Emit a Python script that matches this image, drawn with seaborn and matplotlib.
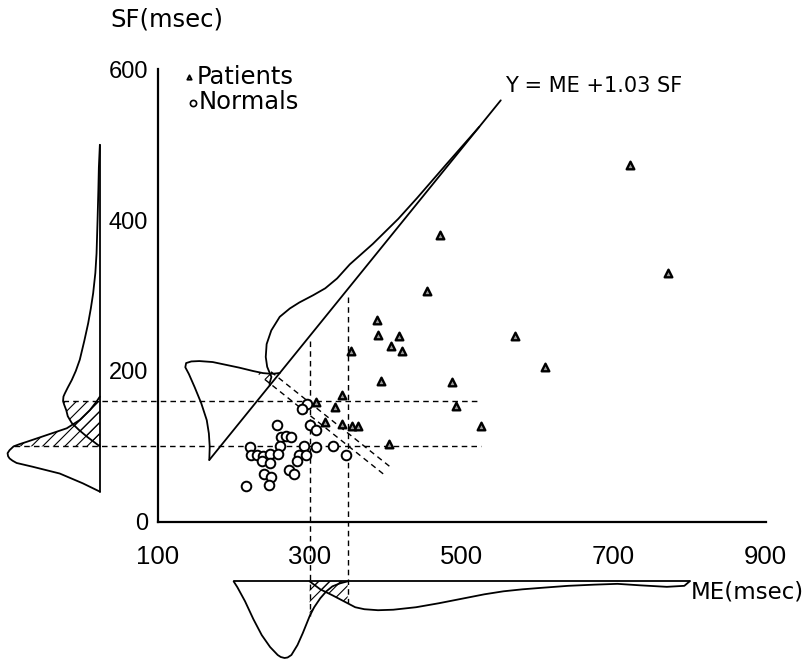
import numpy as np
import pandas as pd
import matplotlib
matplotlib.use("Agg")
import matplotlib.pyplot as plt
import matplotlib.transforms as mtransforms
import seaborn as sns

# ---------------- data ----------------
# scatter: ME (msec) vs SF (msec)
patients_me = [388, 390, 418, 407, 421, 472, 455, 570, 610, 394, 487, 493,
               525, 721, 771, 355, 343, 309, 333, 320, 343, 356, 364, 405]
patients_sf = [267, 248, 247, 233, 227, 381, 306, 246, 205, 187, 185, 154,
               127, 473, 330, 226, 168, 159, 152, 133, 130, 127, 127, 103]
normals_me = [297, 290, 257, 301, 308, 262, 269, 275, 222, 261, 293, 308, 331,
              348, 223, 231, 239, 248, 259, 286, 295, 237, 248, 284, 273, 279,
              240, 249, 246, 216]
normals_sf = [156, 150, 129, 129, 122, 113, 114, 112, 99, 100, 100, 99, 100,
              89, 89, 89, 87, 90, 90, 89, 89, 80, 78, 80, 69, 63, 63, 59, 49, 48]

# marginal distribution of SF (density, arbitrary units)
sf_norm_grid = [40, 51, 64, 73, 78, 81, 84, 87, 91, 95, 100, 103, 106, 115, 124,
                135, 148, 160, 166]
sf_norm_dens = [0, .17, .40, .67, .83, .87, .90, .915, .92, .90, .86, .80, .73,
                .53, .33, .20, .10, .03, 0]
sf_pat_grid = [100, 106, 113, 122, 131, 140, 148, 155, 160, 166, 170, 178, 188,
               200, 215, 240, 263, 283, 303, 330, 356, 400, 440, 470, 500]
sf_pat_dens = [0, .06, .13, .21, .28, .32, .335, .355, .367, .363, .35, .32,
               .28, .24, .20, .155, .117, .09, .067, .045, .033, .023, .015, .01, 0]

# marginal distribution of ME
me_norm_grid = [200, 205, 215, 226, 237, 248, 258, 262, 267, 271, 276, 284, 291,
                300, 306, 314, 322, 330, 340, 350]
me_norm_dens = [0, .06, .20, .38, .54, .66, .74, .76, .77, .765, .74, .64, .52,
                .35, .26, .17, .10, .05, .02, 0]
me_pat_grid = [300, 314, 330, 340, 350, 360, 372, 390, 410, 440, 470, 490, 510,
               530, 555, 580, 605, 640, 675, 705, 735, 770, 793, 800]
me_pat_dens = [0, .08, .14, .18, .22, .26, .28, .29, .285, .26, .22, .19, .16,
               .13, .10, .08, .065, .045, .033, .025, .04, .055, .045, 0]

# distribution along the discriminant axis Y = ME + 1.03 SF (position along axis)
y_norm_pos = [0, 14, 27, 39, 52, 63, 72, 76, 81, 87, 94, 104, 112, 120, 128,
              129, 134, 139, 142, 148]
y_norm_dens = [0, .08, .17, .27, .42, .57, .70, .77, .79, .76, .70, .59, .47,
               .35, .22, .205, .13, .074, .045, 0]
y_pat_pos = [127, 129, 137, 142, 144, 153, 167, 185, 206, 223, 237, 256, 273,
             293, 318, 358, 405, 442, 501, 567]
y_pat_dens = [0, .015, .04, .11, .137, .21, .284, .334, .354, .328, .292, .23,
              .18, .15, .14, .09, .05, .035, .02, 0]

sf_cut = [100, 160]
me_cut = [300, 350]
y_cut = [129, 142]

# ---------------- layout ----------------
DENS = 132            # data units per density unit
SF_BASE = 24          # ME position of SF-marginal baseline
ME_BASE = -79         # SF position of ME-marginal baseline
DIAG_ORIGIN = (168, 82)
DIAG_ANGLE = 51.2
DIAG_LEN = 612
LW = 1.3
DASH = (0, (4, 3))

sns.set_style("white")
plt.rcParams["font.family"] = ["DejaVu Sans"]
plt.rcParams["hatch.linewidth"] = 0.8
plt.rcParams["text.color"] = "black"
plt.rcParams["xtick.color"] = "black"
plt.rcParams["ytick.color"] = "black"
TICKFONT = ["Liberation Sans", "DejaVu Sans"]

fig = plt.figure(figsize=(8.05, 6.6), dpi=100)
ax = fig.add_axes([0, 0, 1, 1])
ax.patch.set_alpha(0)

pat = pd.DataFrame({"ME": patients_me, "SF": patients_sf})
nor = pd.DataFrame({"ME": normals_me, "SF": normals_sf})
sns.scatterplot(data=pat, x="ME", y="SF", marker="^", s=30, color="#9a9a9a",
                edgecolor="black", linewidth=1.7, ax=ax, zorder=4, legend=False)
sns.scatterplot(data=nor, x="ME", y="SF", marker="o", s=48, color="white",
                edgecolor="black", linewidth=1.4, ax=ax, zorder=4, legend=False)

def env(x, g1, d1, g2, d2):
    return max(np.interp(x, g1, d1, left=0, right=0), np.interp(x, g2, d2, left=0, right=0))

# ---- SF marginal (left) ----
ax.plot([SF_BASE, SF_BASE], [sf_norm_grid[0], sf_pat_grid[-1]], color="k", lw=LW)
for g, d in [(sf_norm_grid, sf_norm_dens), (sf_pat_grid, sf_pat_dens)]:
    g = np.array(g); d = np.array(d)
    ax.plot(SF_BASE - DENS * d, g, color="k", lw=LW)
    ax.fill_betweenx(g, SF_BASE - DENS * d, SF_BASE, where=(g >= sf_cut[0]) & (g <= sf_cut[1]),
                     facecolor="none", edgecolor="k", hatch="///", lw=0)

# ---- ME marginal (bottom) ----
ax.plot([me_norm_grid[0], me_pat_grid[-1]], [ME_BASE, ME_BASE], color="k", lw=LW)
for g, d in [(me_norm_grid, me_norm_dens), (me_pat_grid, me_pat_dens)]:
    g = np.array(g); d = np.array(d)
    ax.plot(g, ME_BASE - DENS * d, color="k", lw=LW)
    ax.fill_between(g, ME_BASE - DENS * d, ME_BASE, where=(g >= me_cut[0]) & (g <= me_cut[1]),
                    facecolor="none", edgecolor="k", hatch="///", lw=0)

# ---- discriminant axis ----
rot = mtransforms.Affine2D().rotate_deg(DIAG_ANGLE).translate(*DIAG_ORIGIN) + ax.transData
ax.plot([0, DIAG_LEN], [0, 0], color="k", lw=LW, transform=rot)
for p, d in [(y_norm_pos, y_norm_dens), (y_pat_pos, y_pat_dens)]:
    p = np.array(p); d = np.array(d)
    ax.plot(p, DENS * d, color="k", lw=LW, transform=rot)
    ax.fill_between(p, 0, DENS * d, where=(p >= y_cut[0]) & (p <= y_cut[1]),
                    facecolor="none", edgecolor="k", hatch="///", lw=0, transform=rot)
for c in y_cut:
    ax.plot([c, c], [10, -195], color="k", lw=1.0, ls=DASH, transform=rot)

# ---- cutoff lines ----
for c in sf_cut:
    x0 = SF_BASE - DENS * env(c, sf_norm_grid, sf_norm_dens, sf_pat_grid, sf_pat_dens)
    ax.plot([x0, 526], [c, c], color="k", lw=1.0, ls=DASH)
for c, top in zip(me_cut, [240, 298]):
    y0 = ME_BASE - DENS * env(c, me_norm_grid, me_norm_dens, me_pat_grid, me_pat_dens)
    ax.plot([c, c], [top, y0], color="k", lw=1.0, ls=DASH)

# ---- axes ----
ax.set_xlim(-107.4, 951.8)
ax.set_ylim(-183.3, 692.0)
for s in ["top", "right"]:
    ax.spines[s].set_visible(False)
ax.spines["left"].set_position(("data", 100))
ax.spines["left"].set_bounds(0, 600)
ax.spines["bottom"].set_position(("data", 0))
ax.spines["bottom"].set_bounds(100, 900)
for s in ["left", "bottom"]:
    ax.spines[s].set_linewidth(1.6)
    ax.spines[s].set_color("k")
ax.set_xticks([100, 300, 500, 700, 900])
ax.set_xticks([200, 400, 600, 800], minor=True)
ax.set_yticks([0, 200, 400, 600])
ax.set_yticks([100, 300, 500], minor=True)
ax.tick_params(which="both", direction="in", length=6, width=1.2, color="k")
ax.tick_params(axis="x", which="major", pad=17)
ax.tick_params(axis="y", which="major", pad=7)
for lab in ax.get_xticklabels():
    lab.set_family(TICKFONT)
    lab.set_fontsize(18.5)
for lab in ax.get_yticklabels():
    lab.set_family(TICKFONT)
    lab.set_fontsize(17)
ax.set_xlabel(""); ax.set_ylabel("")

W, H = 805, 660
ax.text(110 / W, 1 - 19 / H, "SF(msec)", transform=ax.transAxes, fontsize=17.5, va="center", ha="left")
ax.text(691 / W, 1 - 592 / H, "ME(msec)", transform=ax.transAxes, fontsize=16.5, va="center", ha="left")
ax.text(505 / W, 1 - 86 / H, "Y = ME +1.03 SF", transform=ax.transAxes, fontsize=15, va="center", ha="left")

# legend entries
ax.scatter([189 / W], [1 - 77 / H], transform=ax.transAxes, marker="^", s=10,
           facecolor="#9a9a9a", edgecolor="black", linewidth=1.3, clip_on=False)
ax.scatter([193 / W], [1 - 103 / H], transform=ax.transAxes, marker="o", s=20,
           facecolor="white", edgecolor="black", linewidth=1.2, clip_on=False)
ax.text(197 / W, 1 - 77 / H, "Patients", transform=ax.transAxes, fontsize=17.5, va="center", ha="left")
ax.text(199 / W, 1 - 102 / H, "Normals", transform=ax.transAxes, fontsize=17.5, va="center", ha="left")

fig.savefig("out.png", dpi=100)
